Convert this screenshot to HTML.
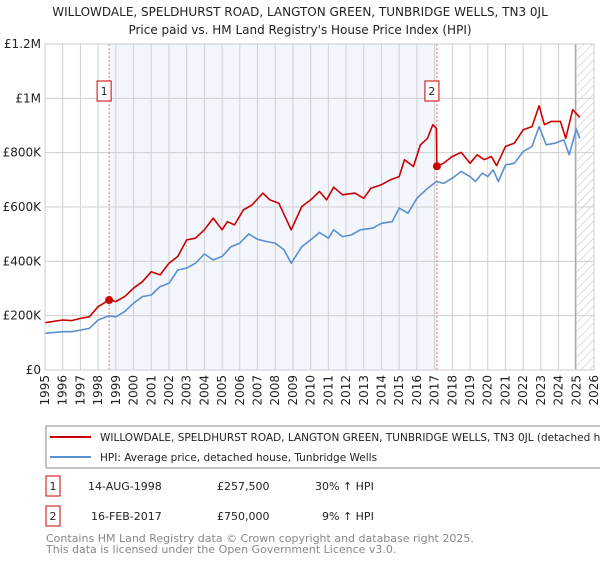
<!DOCTYPE html>
<html><head><meta charset="utf-8"><style>
body{margin:0;background:#fff;font-family:"Liberation Sans","DejaVu Sans",sans-serif;}
svg text{font-family:"DejaVu Sans","Liberation Sans",sans-serif;}
</style></head><body>
<svg id="c" width="600" height="560" xmlns="http://www.w3.org/2000/svg">
<defs><pattern id="hatch" width="6" height="6" patternUnits="userSpaceOnUse" patternTransform="rotate(45)"><line x1="0" y1="0" x2="0" y2="6" stroke="#bbb" stroke-width="1"/></pattern></defs>
<text x="300" y="16" text-anchor="middle" font-size="12" fill="#222">WILLOWDALE, SPELDHURST ROAD, LANGTON GREEN, TUNBRIDGE WELLS, TN3 0JL</text>
<text x="300" y="34" text-anchor="middle" font-size="12" fill="#222">Price paid vs. HM Land Registry's House Price Index (HPI)</text>
<g id="plot"></g>
<rect x="46" y="426" width="560" height="42" fill="none" stroke="#888"/>
<line x1="50" y1="437" x2="91" y2="437" stroke="#cc0000" stroke-width="2"/>
<text x="100" y="441" font-size="10.5" fill="#222">WILLOWDALE, SPELDHURST ROAD, LANGTON GREEN, TUNBRIDGE WELLS, TN3 0JL (detached house)</text>
<line x1="50" y1="457" x2="91" y2="457" stroke="#5b8fd0" stroke-width="2"/>
<text x="100" y="461" font-size="10.5" fill="#222">HPI: Average price, detached house, Tunbridge Wells</text>
<g font-size="11" fill="#222">
<rect x="46" y="476" width="14" height="20" fill="#fff" stroke="#cc0000"/>
<text x="53" y="490" text-anchor="middle">1</text>
<text x="88" y="490">14-AUG-1998</text><text x="217" y="490">£257,500</text><text x="315" y="490">30% ↑ HPI</text>
<rect x="46" y="506" width="14" height="20" fill="#fff" stroke="#cc0000"/>
<text x="53" y="520" text-anchor="middle">2</text>
<text x="91" y="520">16-FEB-2017</text><text x="217" y="520">£750,000</text><text x="322" y="520">9% ↑ HPI</text>
</g>
<text x="46" y="542" font-size="11" fill="#888">Contains HM Land Registry data © Crown copyright and database right 2025.</text>
<text x="46" y="553" font-size="11" fill="#888">This data is licensed under the Open Government Licence v3.0.</text>
</svg>
<script>
const yTicks=[0,200000,400000,600000,800000,1000000,1200000];
const yTickLabels=["£0","£200K","£400K","£600K","£800K","£1M","£1.2M"];
const xYears=[1995,1996,1997,1998,1999,2000,2001,2002,2003,2004,2005,2006,2007,2008,2009,2010,2011,2012,2013,2014,2015,2016,2017,2018,2019,2020,2021,2022,2023,2024,2025,2026];
const hpiT=[1995,1996,1996.5,1997,1997.5,1998,1998.6,1999,1999.5,2000,2000.5,2001,2001.5,2002,2002.5,2003,2003.5,2004,2004.5,2005,2005.5,2006,2006.5,2007,2007.5,2008,2008.5,2008.9,2009.5,2010,2010.5,2011,2011.3,2011.8,2012.3,2012.8,2013.5,2014,2014.6,2015,2015.5,2016,2016.5,2017.1,2017.5,2018,2018.5,2019,2019.3,2019.7,2020,2020.3,2020.6,2021,2021.5,2022,2022.5,2022.9,2023.3,2023.8,2024.3,2024.6,2025,2025.2];
const hpiV=[135,141,141,147,153,184,199,196,215,246,270,276,307,319,368,375,393,427,405,418,454,467,501,481,473,467,442,393,454,479,506,485,516,491,497,516,522,540,546,596,577,632,663,694,687,706,731,712,694,725,712,737,694,755,761,804,823,896,829,835,847,792,887,853];
const propT=[1995,1996,1996.5,1997,1997.5,1998,1998.62,1999,1999.5,2000,2000.5,2001,2001.5,2002,2002.5,2003,2003.5,2004,2004.5,2005,2005.3,2005.7,2006.2,2006.7,2007.3,2007.7,2008.2,2008.9,2009.5,2010,2010.5,2010.9,2011.3,2011.8,2012.5,2013,2013.4,2014,2014.5,2015,2015.3,2015.8,2016.2,2016.6,2016.9,2017.1,2017.13,2017.5,2018,2018.5,2019,2019.4,2019.8,2020.2,2020.5,2021,2021.5,2022,2022.5,2022.9,2023.2,2023.6,2024.1,2024.4,2024.8,2025.2];
const propV=[174,184,182,190,196,233,258,252,270,301,325,362,350,393,418,479,485,516,559,516,546,534,589,608,651,626,614,516,602,626,657,626,673,645,651,632,669,682,700,712,774,749,829,853,903,890,750,761,786,801,761,792,774,786,752,823,835,884,896,973,903,915,915,853,958,930];
const saleT=[1998.62,2017.13];
const saleV=[257500,750000];
const saleLabels=["1","2"];
const NS="http://www.w3.org/2000/svg";
const L=45,R=594,T=44,B=370;
const xs=t=>L+(t-1995)/(2026-1995)*(R-L);
const ys=v=>B-v/1200000*(B-T);
const g=document.getElementById('plot');
function mk(tag,a,p){const e=document.createElementNS(NS,tag);for(const k in a)e.setAttribute(k,a[k]);(p||g).appendChild(e);return e;}
let e=mk('rect',{x:xs(saleT[0]),y:T,width:xs(saleT[1])-xs(saleT[0]),height:B-T,fill:'#f3f6fd'});


e=mk('rect',{x:xs(2025),y:T,width:R-xs(2025),height:B-T,fill:'url(#hatch)'});


xYears.forEach(y=>{
 let l=mk('line',{x1:xs(y),x2:xs(y),y1:T,y2:B,stroke:'#d0d0d0','stroke-width':1});
 
 
 let t=mk('text',{x:0,y:0,'font-size':12,fill:'#222','text-anchor':'end',transform:`translate(${xs(y)+4},${B+5}) rotate(-90)`});
 t.textContent=y;
 
 
});
yTicks.forEach((v,i)=>{
 let l=mk('line',{x1:L,x2:R,y1:ys(v),y2:ys(v),stroke:'#d0d0d0','stroke-width':1});
 
 
 let t=mk('text',{x:L-4,y:ys(v)+4,'font-size':12,fill:'#222','text-anchor':'end'});
 t.textContent=yTickLabels[i];
 
 
});
e=mk('line',{x1:xs(2025)-1,x2:xs(2025)-1,y1:T,y2:B,stroke:'#999'});


saleT.forEach((t,i)=>{
 let l=mk('line',{x1:xs(t),x2:xs(t),y1:T,y2:B,stroke:'#f07070','stroke-dasharray':'2,2'});
 
 
});
function path(T_,V_,col,name){
 const d=T_.map((t,i)=>(i?'L':'M')+xs(t).toFixed(1)+','+ys(V_[i]*1000).toFixed(1)).join('');
 const p=mk('path',{d:d,fill:'none',stroke:col,'stroke-width':1.6,'stroke-linejoin':'round'});
 
 
}
path(hpiT,hpiV,'#5b8fd0','hpi-line');
path(propT,propV,'#cc0000','property-line');
saleT.forEach((t,i)=>{
 let c=mk('circle',{cx:xs(t),cy:ys(saleV[i]),r:4,fill:'#cc0000'});
 
 
 let r=mk('rect',{x:xs(t)-12,y:81,width:14,height:20,fill:'#fff',stroke:'#cc0000'});
 
 
 let tx=mk('text',{x:xs(t)-5,y:95,'font-size':11,fill:'#222','text-anchor':'middle'});
 tx.textContent=saleLabels[i];
 
 
});
e=mk('rect',{x:L,y:T,width:R-L,height:B-T,fill:'none',stroke:'#ccc'});


</script>
</body></html>
